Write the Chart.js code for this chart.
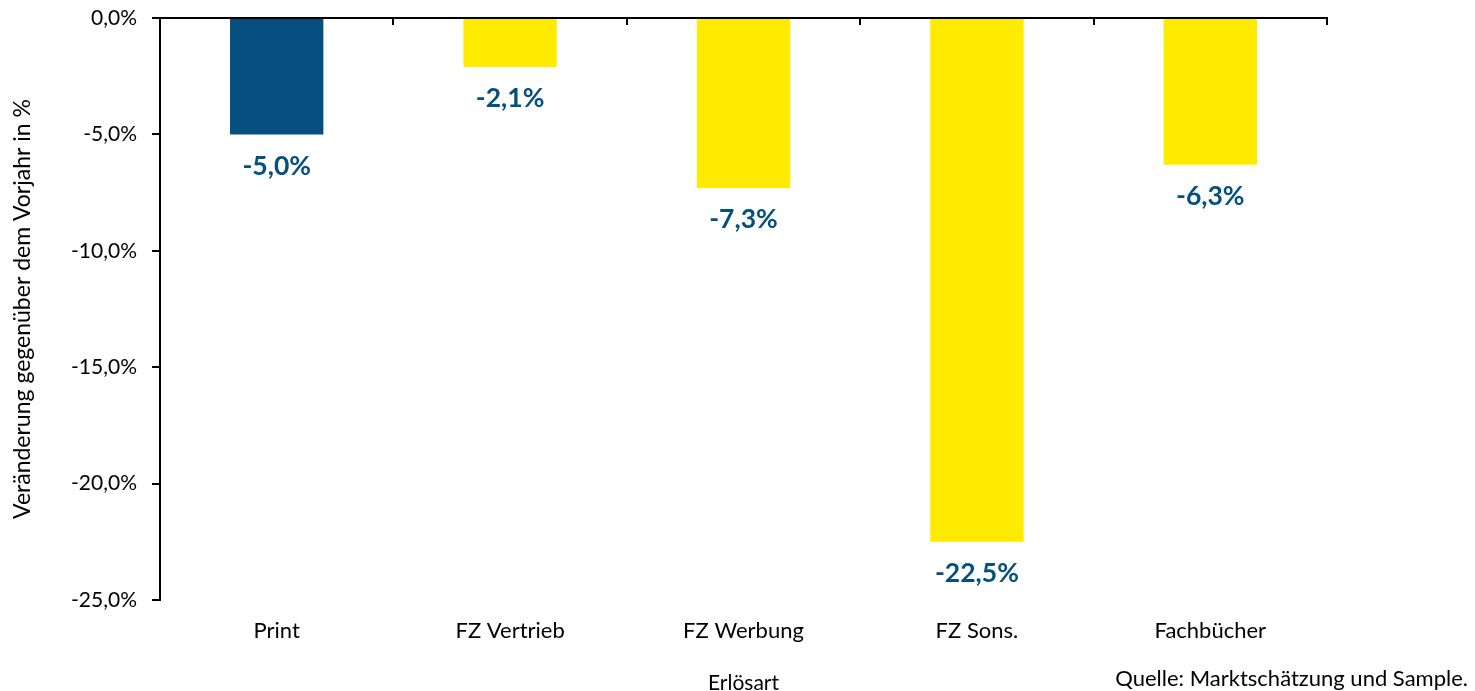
<!DOCTYPE html>
<html>
<head>
<meta charset="utf-8">
<script src="https://cdn.jsdelivr.net/npm/chart.js@4"></script>
<style>
  html, body { margin: 0; padding: 0; background: #fff; }
  #wrap { position: relative; width: 1475px; height: 691px; }
</style>
</head>
<body>
<div id="wrap"><canvas id="chart"></canvas></div>
<script>
const categories = ['Print', 'FZ Vertrieb', 'FZ Werbung', 'FZ Sons.', 'Fachbücher'];
const changes = [-5.0, -2.1, -7.3, -22.5, -6.3];
const barColors = ['#05507E', '#FFEB00', '#FFEB00', '#FFEB00', '#FFEB00'];
const yTicks = [0, -5, -10, -15, -20, -25];

const navy = '#05507E';
const fontFamily = 'Lato, "Open Sans", sans-serif';

function pct(v) {
    return v.toFixed(1).replace('.', ',') + '%';
}

// labels under each bar end + source note
const valueLabels = {
    id: 'valueLabels',
    afterDatasetsDraw(chart) {
        const ctx = chart.ctx;
        const meta = chart.getDatasetMeta(0);
        ctx.save();
        ctx.font = 'bold 26.5px ' + fontFamily;
        ctx.fillStyle = navy;
        ctx.textAlign = 'center';
        ctx.textBaseline = 'middle';
        meta.data.forEach((bar, i) => {
            ctx.fillText(pct(changes[i]), bar.x, bar.y + 32);
        });
        ctx.font = '22px ' + fontFamily;
        ctx.fillStyle = '#000';
        ctx.textAlign = 'right';
        ctx.fillText('Quelle: Marktschätzung und Sample.', 1468, 679);
        ctx.restore();
    }
};

new Chart(document.getElementById('chart'), {
    type: 'bar',
    data: {
        labels: categories,
        datasets: [{
            data: changes,
            backgroundColor: barColors,
            categoryPercentage: 1,
            barPercentage: 0.4,
            xAxisID: 'x',
            yAxisID: 'y'
        }]
    },
    options: {
        responsive: true,
        maintainAspectRatio: false,
        animation: false,
        layout: {
            padding: { top: 0, right: 148, left: 0, bottom: 0 }
        },
        plugins: {
            legend: { display: false },
            tooltip: { enabled: false }
        },
        scales: {
            x: {
                position: 'top',
                offset: true,
                afterFit(axis) { axis.height = 18; },
                grid: {
                    offset: true,
                    drawOnChartArea: false,
                    drawTicks: true,
                    tickLength: -7,
                    color: '#000',
                    lineWidth: 2
                },
                border: { color: '#000', width: 2 },
                ticks: { display: false }
            },
            xLabels: {
                type: 'category',
                labels: categories,
                position: 'bottom',
                offset: true,
                afterFit(axis) { axis.height = 91; },
                grid: { display: false, drawTicks: false },
                border: { display: false },
                ticks: {
                    padding: 18,
                    color: '#000',
                    font: { family: fontFamily, size: 22 }
                },
                title: {
                    display: true,
                    text: 'Erlösart',
                    color: '#000',
                    font: { family: fontFamily, size: 21 },
                    padding: { top: 0, bottom: -5 }
                }
            },
            y: {
                min: -25,
                max: 0,
                afterFit(axis) {
                    axis.width = 160;
                    axis.paddingTop = 0;
                    axis.paddingBottom = 0;
                },
                afterBuildTicks(axis) {
                    axis.ticks = yTicks.map(v => ({ value: v }));
                },
                grid: {
                    drawOnChartArea: false,
                    drawTicks: true,
                    tickLength: 8,
                    color: '#000',
                    lineWidth: 2
                },
                border: { color: '#000', width: 2 },
                ticks: {
                    padding: 15,
                    color: '#000',
                    font: { family: fontFamily, size: 21 },
                    callback: v => pct(v)
                },
                title: {
                    display: true,
                    text: 'Veränderung gegenüber dem Vorjahr in %',
                    color: '#000',
                    font: { family: fontFamily, size: 23 },
                    padding: { top: 9, bottom: 0 }
                }
            }
        }
    },
    plugins: [valueLabels]
});
</script>
</body>
</html>
